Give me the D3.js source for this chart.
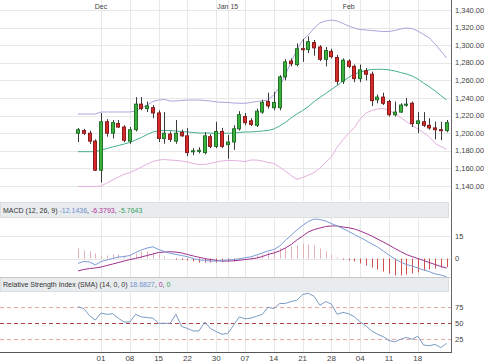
<!DOCTYPE html>
<html>
<head>
<meta charset="utf-8">
<script src="https://cdnjs.cloudflare.com/ajax/libs/d3/7.8.5/d3.min.js"></script>
<style>
body { margin: 0; background: #fff; }
svg { display: block; font-family: "Liberation Sans", Arial, sans-serif; }
</style>
</head>
<body>
<script>
// daily OHLC (65 sessions)
var opens = [1200,1203,1200,1191,1158,1213,1200,1211,1207,1191, 1204,1233,1228,1229,1223,1194,1199,1191,1201,1197,
    1179,1180,1178,1196,1185,1202,1187,1190,1205,1219, 1214,1209,1224,1236,1229,1229,1264,1282,1278,1296,
    1295,1303,1298,1284,1293,1286,1259,1282,1276,1262, 1271,1267,1238,1241,1236,1221,1224,1233,1234,1211,
    1213,1209,1206,1204,1203];
var highs = [1206,1205,1203,1193,1223,1216,1215,1215,1209,1207, 1241,1241,1236,1232,1226,1224,1202,1215,1204,1206,
    1183,1184,1201,1199,1213,1206,1198,1209,1225,1223, 1217,1228,1238,1246,1247,1266,1284,1285,1302,1307,
    1310,1306,1300,1298,1296,1289,1285,1284,1278,1278, 1274,1270,1244,1246,1238,1236,1234,1240,1236,1224,
    1224,1217,1213,1213,1215];
var lows = [1190,1198,1188,1157,1144,1196,1194,1206,1190,1188, 1202,1226,1224,1217,1190,1188,1190,1188,1196,1174,
    1175,1177,1176,1183,1183,1183,1171,1181,1203,1209, 1208,1207,1222,1228,1226,1226,1260,1276,1276,1281,
    1291,1288,1282,1276,1285,1255,1256,1274,1258,1258, 1260,1231,1234,1232,1219,1219,1223,1230,1207,1200,
    1207,1204,1193,1192,1201];
var closes = [1204,1200,1191,1158,1213,1200,1212,1207,1192,1204, 1233,1228,1231,1223,1194,1200,1193,1200,1197,1178,
    1180,1180.5,1197,1185,1202,1185,1190,1205,1221,1212, 1210,1225,1235,1231,1235,1264,1281,1279,1296,1295,
    1304,1297,1284,1294,1287,1259,1283,1276,1262,1272, 1267,1237,1241,1234,1221,1224,1232,1233,1211,1214,
    1209,1206,1204,1203,1212];

// bollinger bands
var bbUpper = [1221.8,1221.8,1221.8,1221.8,1224.1,1224.1,1224.1,1224.1,1224.1,1224.1, 1225.2,1228.6,1232.0,1236.0,1237.7,1238.3,1236.6,1236.6,1237.2,1237.7,
    1237.7,1237.7,1237.2,1236.6,1235.5,1235.1,1234.9,1234.3,1234.0,1234.0, 1234.9,1236.0,1236.6,1237.7,1243.4,1252.5,1266.1,1280.9,1294.5,1305.9,
    1311.6,1319.5,1325.2,1327.5,1328.6,1327.5,1324.7,1321.8,1319.5,1317.8, 1317.3,1316.7,1316.1,1315.6,1315.6,1316.7,1318.4,1319.5,1319.0,1316.1,
    1312.2,1308.2,1301.4,1293.4,1285.5];
var bbMiddle = [1179.0,1179.0,1179.0,1179.0,1180.9,1182.6,1184.3,1186.0,1187.7,1189.4, 1192.3,1195.1,1198.5,1201.4,1202.8,1203.1,1203.1,1202.5,1201.9,1201.4,
    1200.8,1200.2,1200.2,1200.2,1199.9,1199.9,1199.9,1200.2,1200.8,1201.4, 1201.4,1201.9,1202.5,1203.1,1204.8,1208.2,1212.2,1217.3,1221.8,1225.8,
    1230.3,1236.0,1240.6,1245.1,1249.7,1254.2,1259.3,1263.3,1267.3,1269.5, 1271.3,1272.4,1272.6,1272.6,1272.0,1270.7,1269.0,1267.3,1265.0,1261.6,
    1257.0,1252.8,1248.0,1242.8,1237.7];
var bbLower = [1139.4,1139.4,1139.4,1139.4,1140.0,1143.4,1146.8,1150.2,1153.1,1155.3, 1158.2,1161.6,1165.0,1167.8,1169.5,1170.1,1169.5,1169.0,1168.4,1167.3,
    1165.6,1164.4,1164.4,1165.6,1167.3,1168.4,1169.0,1169.0,1168.4,1167.8, 1169.5,1169.5,1168.4,1166.7,1165.8,1161.6,1157.0,1151.9,1147.6,1149.7,
    1152.5,1155.3,1160.5,1166.7,1173.0,1184.3,1192.3,1200.2,1206.5,1216.1, 1223.0,1225.8,1227.5,1228.3,1225.8,1222.4,1217.8,1213.3,1208.8,1204.8,
    1200.8,1195.7,1188.5,1184.9,1181.7];

// MACD (12, 26, 9)
var macdLine = [-3.2,-2.0,-2.3,-4.3,-2.0,-1.0,0,1.0,1.3,2.0, 4.0,5.7,7.0,7.8,6.0,4.7,3.5,2.7,2.0,1.2,
    0,-0.9,-1.3,-1.7,-1.7,-1.3,-1.0,-0.7,-0.2,0.5, 1.1,2.3,3.7,5.0,6.0,8.3,12.0,15.5,19.0,22.0,
    24.7,26.3,26.0,25.0,23.3,21.7,20.0,18.0,16.0,14.0, 12.0,9.7,7.7,5.0,2.3,-0.3,-2.3,-4.0,-5.0,-6.3,
    -7.7,-8.7,-10.3,-11.0,-12.1436];
var macdSignal = [-8.3,-7.3,-6.7,-6.3,-5.7,-4.7,-3.7,-2.7,-1.7,-0.7, 0.1,1.0,2.0,3.0,4.0,4.3,4.5,4.3,3.7,2.7,
    1.7,0.8,0,-0.7,-1.2,-1.7,-1.7,-1.5,-1.2,-0.7, -0.3,0.3,1.3,2.7,3.7,5.0,7.0,9.3,12.3,15.0,
    17.7,19.3,20.3,21.3,21.7,21.7,21.0,20.5,19.7,18.3, 16.7,15.0,13.0,11.0,9.0,6.7,4.7,2.7,1.3,0,
    -1.3,-2.7,-4.0,-5.3,-6.3793];
var macdHist = [6.7,5.3,4.7,3.3,2,2,2.7,2.7,2,2.7, 3.3,4.7,4.7,4,2.7,1.3,0.3,-0.7,-1,-1.3,
    -2,-2.7,-2.7,-2.7,-2.7,-2,-2,-2,-0.7,0.3, 1,2,2.7,4,5.3,6.7,7.3,8,8.7,10,
    9.3,8.7,6.7,4.7,2.7,0.7,-0.7,-1.3,-2,-3.3, -4.7,-6,-7.3,-8.7,-10,-11.3,-11.3,-10.7,-10,-9.3,
    -8,-7.3,-6.7,-6,-5.7643];

// RSI (SMA) 14
var rsi = [76,73,62,55,66,64,65,58,52,52, 64,60,59,58,50,50,50,64,45,42,
    38,38,52,42,37,33,34,47,60,57, 58,61,64,75,73,81,81,84,86,95,
    97,92,78,84,80,64,67,65,60,52, 46,38,33,29,23,21,25,28,25,30,
    16,15,17,12,18.6827];

// axis ticks (session index -> label)
var weekIdx = [4, 9, 14, 19, 24, 29, 34, 39, 44, 49, 54, 59];
var weekLabels = ["01", "08", "15", "22", "30", "07", "14", "21", "28", "04", "11", "18"];
var monthIdx = [4, 26, 47];
var monthLabels = ["Dec", "Jan 15", "Feb"];
var priceTicks = [1140, 1160, 1180, 1200, 1220, 1240, 1260, 1280, 1300, 1320, 1340];
var macdTicks = [0, 15];
var rsiLevels = [25, 50, 75];

var W = 484, H = 363, plotRight = 451;

var svg = d3.select("body").append("svg")
    .attr("width", W)
    .attr("height", H);

var x = d3.scaleLinear().domain([0, closes.length - 1]).range([78, 446.6]);
var yPrice = d3.scaleLinear().domain([1140, 1340]).range([186, 10]);
var yMacd = d3.scaleLinear().domain([0, 15]).range([258.5, 236]);
var yRsi = d3.scaleLinear().domain([0, 100]).range([355.3, 291.3]);

var px = function(v) { return Math.round(v) + 0.5; };

// panels: main, macd, rsi
var panels = [[0, 201], [218, 277], [292, 352]];

// **************** grid ****************
var grid = svg.append("g").attr("stroke", "#e8e8e8").attr("stroke-width", 1);
panels.forEach(function(p) {
    grid.selectAll(null)
        .data(weekIdx.concat(monthIdx.slice(1)))
        .enter().append("line")
        .attr("x1", function(d) { return px(x(d)); })
        .attr("x2", function(d) { return px(x(d)); })
        .attr("y1", p[0])
        .attr("y2", p[1]);
});
grid.selectAll(null)
    .data(priceTicks)
    .enter().append("line")
    .attr("x1", 0).attr("x2", plotRight)
    .attr("y1", function(d) { return px(yPrice(d)); })
    .attr("y2", function(d) { return px(yPrice(d)); });
grid.selectAll(null)
    .data(macdTicks)
    .enter().append("line")
    .attr("x1", 0).attr("x2", plotRight)
    .attr("y1", function(d) { return px(yMacd(d)); })
    .attr("y2", function(d) { return px(yMacd(d)); });

// **************** headers ****************
function header(y, h, parts) {
    svg.append("rect")
        .attr("x", 0.5).attr("y", y + 0.5)
        .attr("width", 448).attr("height", h)
        .attr("fill", "#e9ecee")
        .attr("stroke", "#dcdfe2");
    var t = svg.append("text")
        .attr("x", 3).attr("y", y + h / 2 + 3)
        .attr("font-size", 7);
    parts.forEach(function(p) {
        t.append("tspan").attr("fill", p[1]).text(p[0]);
    });
}
header(202, 15, [["MACD (12, 26, 9) ", "#333"], ["-12.1436", "#6f8fcf"], [", ", "#333"],
    ["-6.3793", "#b0309a"], [", ", "#333"], ["-5.7643", "#3aa060"]]);
header(277, 14, [["Relative Strength Index (SMA) (14, 0, 0) ", "#333"], ["18.6827", "#6f8fcf"], [", ", "#333"],
    ["0", "#b0309a"], [", ", "#333"], ["0", "#3aa060"]]);

// **************** bollinger ****************
function drawLine(values, yScale, color) {
    var line = d3.line()
        .x(function(d, i) { return x(i); })
        .y(function(d) { return yScale(d); });
    svg.append("path")
        .datum(values)
        .attr("fill", "none")
        .attr("stroke", color)
        .attr("stroke-width", 1)
        .attr("d", line);
}
drawLine(bbUpper, yPrice, "#aba4dc");
drawLine(bbLower, yPrice, "#e3b0e0");
drawLine(bbMiddle, yPrice, "#45b08e");

// **************** candles ****************
var candles = svg.append("g").selectAll("g")
    .data(closes.map(function(c, i) {
        return { i: i, o: opens[i], h: highs[i], l: lows[i], c: c };
    }))
    .enter().append("g");

candles.append("line")
    .attr("x1", function(d) { return px(x(d.i)); })
    .attr("x2", function(d) { return px(x(d.i)); })
    .attr("y1", function(d) { return yPrice(d.h); })
    .attr("y2", function(d) { return yPrice(d.l); })
    .attr("stroke", "#3a3a3a");

candles.append("rect")
    .attr("x", function(d) { return Math.round(x(d.i)) - 1.5; })
    .attr("width", 3)
    .attr("y", function(d) { return yPrice(Math.max(d.o, d.c)); })
    .attr("height", function(d) { return Math.max(1, Math.abs(yPrice(d.o) - yPrice(d.c))); })
    .attr("fill", function(d) { return d.c >= d.o ? "#3bb03b" : "#d42a2a"; })
    .attr("stroke", function(d) { return d.c >= d.o ? "#22722a" : "#8a1c1c"; });

// **************** macd ****************
svg.append("g").selectAll("line")
    .data(macdHist)
    .enter().append("line")
    .attr("x1", function(d, i) { return px(x(i)); })
    .attr("x2", function(d, i) { return px(x(i)); })
    .attr("y1", yMacd(0))
    .attr("y2", function(d) { return yMacd(d); })
    .attr("stroke", function(d) { return d >= 0 ? "#e2b2b6" : "#d05050"; });
drawLine(macdSignal, yMacd, "#a0308f");
drawLine(macdLine, yMacd, "#7b9cd6");

// **************** rsi ****************
svg.append("g").selectAll("line")
    .data(rsiLevels)
    .enter().append("line")
    .attr("x1", 0).attr("x2", plotRight)
    .attr("y1", function(d) { return px(yRsi(d)); })
    .attr("y2", function(d) { return px(yRsi(d)); })
    .attr("stroke", function(d) { return d == 50 ? "#b04444" : "#e6aaa4"; })
    .attr("stroke-dasharray", "4,3");
drawLine(rsi, yRsi, "#7b9bc4");

// **************** axes ****************
svg.append("line")
    .attr("x1", 0).attr("x2", plotRight)
    .attr("y1", 352.5).attr("y2", 352.5)
    .attr("stroke", "#555");
svg.append("line")
    .attr("x1", plotRight + 0.5).attr("x2", plotRight + 0.5)
    .attr("y1", 0).attr("y2", 353)
    .attr("stroke", "#666");
svg.append("line")
    .attr("x1", 0).attr("x2", plotRight)
    .attr("y1", 277.5).attr("y2", 277.5)
    .attr("stroke", "#c8c8c8");

var labels = svg.append("g").attr("fill", "#444").attr("font-size", 7.5);
labels.selectAll(null)
    .data(priceTicks)
    .enter().append("text")
    .attr("x", 455)
    .attr("y", function(d) { return yPrice(d) + 2.5; })
    .text(d3.format(",.2f"));
labels.selectAll(null)
    .data(macdTicks)
    .enter().append("text")
    .attr("x", 455)
    .attr("y", function(d) { return yMacd(d) + 2.5; })
    .text(function(d) { return d; });
labels.selectAll(null)
    .data(rsiLevels)
    .enter().append("text")
    .attr("x", 455)
    .attr("y", function(d) { return yRsi(d) + 2.5; })
    .text(function(d) { return d; });
labels.selectAll(null)
    .data(weekIdx)
    .enter().append("text")
    .attr("x", function(d) { return x(d); })
    .attr("y", 361)
    .attr("font-size", 8)
    .attr("text-anchor", "middle")
    .text(function(d, i) { return weekLabels[i]; });
labels.selectAll(null)
    .data(monthIdx)
    .enter().append("text")
    .attr("x", function(d) { return x(d); })
    .attr("y", 8.5)
    .attr("font-size", 7)
    .attr("text-anchor", "middle")
    .text(function(d, i) { return monthLabels[i]; });
</script>
</body>
</html>
